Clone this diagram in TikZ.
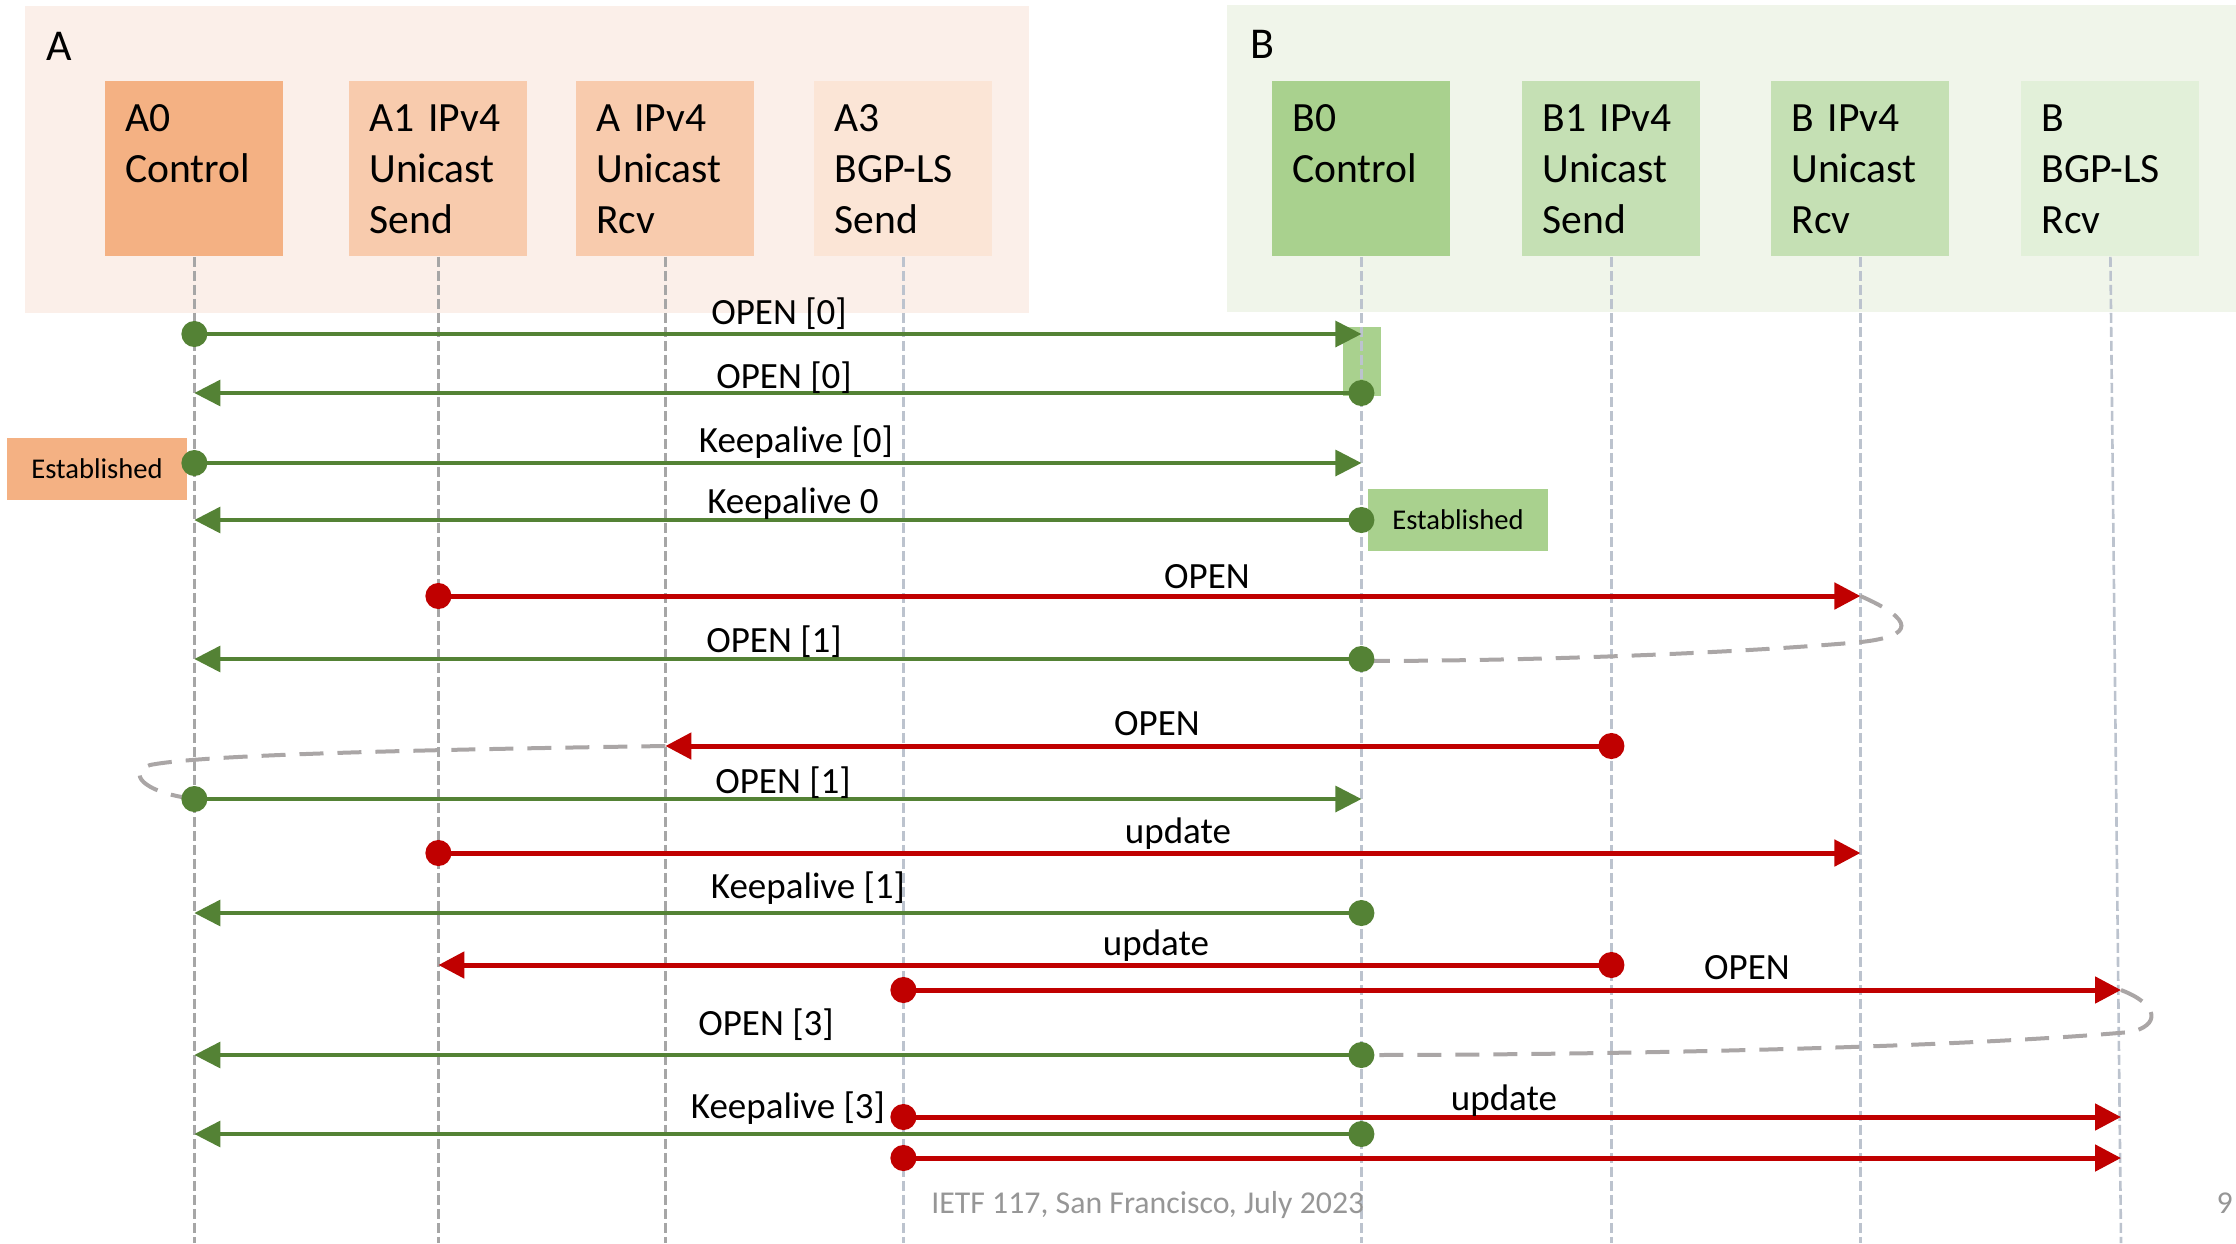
\documentclass[tikz,border=0pt]{standalone}
\usepackage{fontspec}
\setmainfont{Carlito}
\usetikzlibrary{arrows.meta}

\definecolor{abg}{RGB}{251,239,233}
\definecolor{actl}{RGB}{244,177,131}
\definecolor{auni}{RGB}{248,203,173}
\definecolor{als}{RGB}{251,229,214}
\definecolor{bbg}{RGB}{240,245,234}
\definecolor{bctl}{RGB}{169,209,142}
\definecolor{buni}{RGB}{197,224,180}
\definecolor{bls}{RGB}{226,240,217}
\definecolor{msggreen}{RGB}{84,130,53}
\definecolor{msgred}{RGB}{192,0,0}
\definecolor{loopgray}{RGB}{170,166,166}
\definecolor{lifegray}{RGB}{166,166,166}
\definecolor{lifeblue}{RGB}{188,195,206}
\definecolor{footgray}{RGB}{150,150,150}

\tikzset{
	role/.style={anchor=north west,inner xsep=10pt,inner ysep=0pt,text width=69pt,
		minimum width=89pt,minimum height=87.5pt,align=left,
		font=\fontsize{20.8}{25.5}\selectfont},
	grplabel/.style={anchor=base west,inner sep=0pt,font=\fontsize{22}{26}\selectfont},
	life/.style={line width=1.3pt,dash pattern=on 5pt off 2pt},
	gmsg/.style={draw=msggreen,line width=1.6pt,shorten <=-6.5pt,
		{Circle[length=13pt]}-{Triangle[length=13pt,width=13pt]}},
	rmsg/.style={draw=msgred,line width=2.5pt,shorten <=-6.5pt,
		{Circle[length=13pt]}-{Triangle[length=13pt,width=13pt]}},
	lbl/.style={anchor=base,inner sep=0pt,font=\fontsize{18.5}{22}\selectfont},
	state/.style={minimum width=90pt,minimum height=31pt,inner sep=0pt,
		font=\fontsize{14.3}{17}\selectfont},
	loopback/.style={draw=loopgray,line width=2pt,dash pattern=on 12pt off 7pt}
}

\begin{document}
\begin{tikzpicture}[x=0.5pt,y=-0.5pt]
\useasboundingbox (0,0) rectangle (2236,1243);

% speaker groups
\fill[abg] (25,6) rectangle (1029,313);
\fill[bbg] (1227,5) rectangle (2236,312);
\node[grplabel] (grpA) at (46,60) {A};
\node[grplabel] (grpB) at (1250,58) {B};

% sessions of A
\node[role,fill=actl] (A0) at (105,81) {A0\\Control\\\mbox{}};
\node[role,fill=auni] (A1) at (349,81) {A1 IPv4\\Unicast\\Send};
\node[role,fill=auni] (A2) at (576,81) {A IPv4\\Unicast\\Rcv};
\node[role,fill=als] (A3) at (814,81) {A3\\BGP-LS\\Send};

% sessions of B
\node[role,fill=bctl] (B0) at (1272,81) {B0\\Control\\\mbox{}};
\node[role,fill=buni] (B1) at (1522,81) {B1 IPv4\\Unicast\\Send};
\node[role,fill=buni] (B2) at (1771,81) {B IPv4\\Unicast\\Rcv};
\node[role,fill=bls] (B3) at (2021,81) {B\\BGP-LS\\Rcv};

% marker on B0 while OPEN is pending
\fill[bctl] (1343,327) rectangle (1381,396);

% lifelines
\coordinate (B3end) at (2121,1243);
\draw[life,draw=lifegray] (A0.south) -- (A0.south |- 0,1243);
\draw[life,draw=lifegray] (A1.south) -- (A1.south |- 0,1243);
\draw[life,draw=lifegray] (A2.south) -- (A2.south |- 0,1243);
\draw[life,draw=lifeblue] (A3.south) -- (A3.south |- 0,1243);
\draw[life,draw=lifeblue] (B0.south) -- (B0.south |- 0,1243);
\draw[life,draw=lifeblue] (B1.south) -- (B1.south |- 0,1243);
\draw[life,draw=lifeblue] (B2.south) -- (B2.south |- 0,1243);
\draw[life,draw=lifeblue] (B3.south) -- (B3end);

% established states
\node[state,fill=actl] (estA) at (97,469) {Established};
\node[state,fill=bctl] (estB) at (1458,520) {Established};

% dashed loop-backs
\draw[loopback] (B2.south |- 0,596) .. controls (1915,620) and (1915,636) .. (1861,642)
	.. controls (1750,652) and (1550,661) .. (B0.south |- 0,661);
\draw[loopback] (A2.south |- 0,746) .. controls (400,750) and (200,755) .. (150,765)
	.. controls (128,772) and (140,792) .. (A0.south |- 0,799);
\draw[loopback] (B3end |- 0,990) .. controls (2160,1005) and (2160,1026) .. (2130,1032)
	.. controls (1950,1048) and (1600,1055) .. (B0.south |- 0,1055);

% messages
\draw[gmsg] (A0.south |- 0,334) -- (B0.south |- 0,334);
\node[lbl] (m1) at (779,324) {OPEN [0]};
\draw[gmsg] (B0.south |- 0,393) -- (A0.south |- 0,393);
\node[lbl] (m2) at (784,388) {OPEN [0]};
\draw[gmsg] (A0.south |- 0,463) -- (B0.south |- 0,463);
\node[lbl] (m3) at (796,452) {Keepalive [0]};
\draw[gmsg] (B0.south |- 0,520) -- (A0.south |- 0,520);
\node[lbl] (m4) at (793,513) {Keepalive 0};
\draw[rmsg] (A1.south |- 0,596) -- (B2.south |- 0,596);
\node[lbl] (m5) at (1207,588) {OPEN};
\draw[gmsg] (B0.south |- 0,659) -- (A0.south |- 0,659);
\node[lbl] (m6) at (774,652) {OPEN [1]};
\draw[rmsg] (B1.south |- 0,746) -- (A2.south |- 0,746);
\node[lbl] (m7) at (1157,735) {OPEN};
\draw[gmsg] (A0.south |- 0,799) -- (B0.south |- 0,799);
\node[lbl] (m8) at (783,793) {OPEN [1]};
\draw[rmsg] (A1.south |- 0,853) -- (B2.south |- 0,853);
\node[lbl] (m9) at (1178,843) {update};
\draw[gmsg] (B0.south |- 0,913) -- (A0.south |- 0,913);
\node[lbl] (m10) at (808,898) {Keepalive [1]};
\draw[rmsg] (B1.south |- 0,965) -- (A1.south |- 0,965);
\node[lbl] (m11) at (1156,955) {update};
\draw[rmsg] (A3.south |- 0,990) -- (B3end |- 0,990);
\node[lbl] (m12) at (1747,979) {OPEN};
\draw[gmsg] (B0.south |- 0,1055) -- (A0.south |- 0,1055);
\node[lbl] (m13) at (766,1035) {OPEN [3]};
\draw[rmsg] (A3.south |- 0,1117) -- (B3end |- 0,1117);
\node[lbl] (m14) at (1504,1110) {update};
\draw[gmsg] (B0.south |- 0,1134) -- (A0.south |- 0,1134);
\node[lbl] (m15) at (788,1118) {Keepalive [3]};
\draw[rmsg] (A3.south |- 0,1158) -- (B3end |- 0,1158);

% footer
\node[anchor=base west,inner sep=0pt,text=footgray,font=\fontsize{15.9}{19}\selectfont]
	(foot) at (931,1213) {IETF 117, San Francisco, July 2023};
\node[anchor=base east,inner sep=0pt,text=footgray,font=\fontsize{15.9}{19}\selectfont]
	(page) at (2233,1213) {9};

\end{tikzpicture}
\end{document}
